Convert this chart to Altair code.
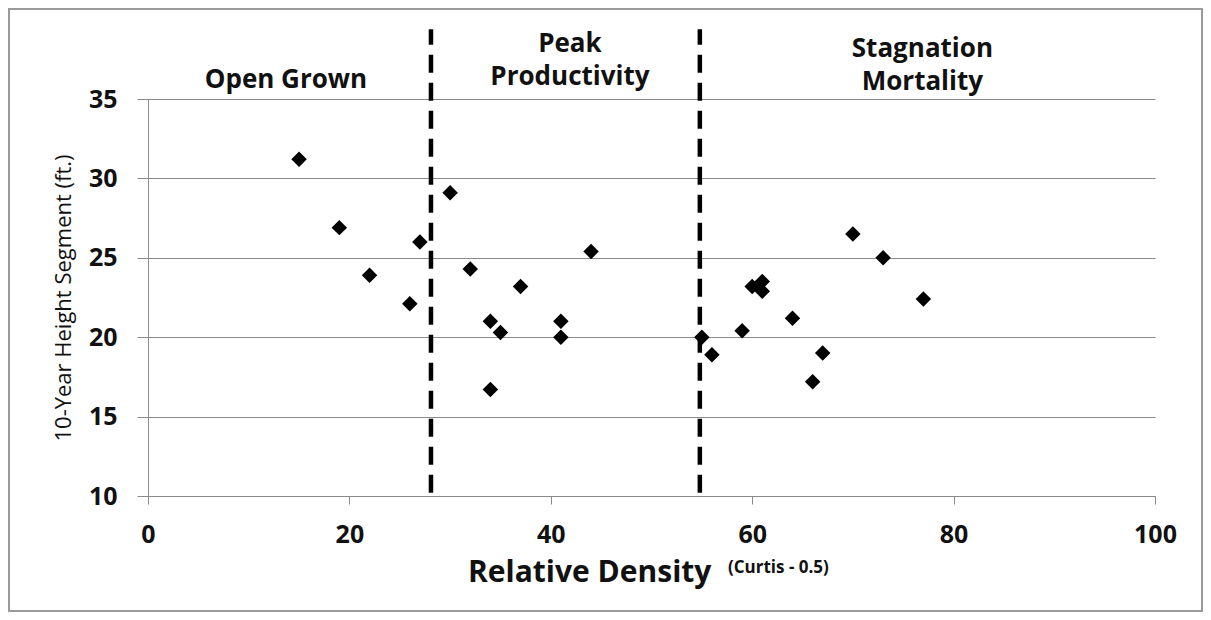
import altair as alt
import pandas as pd

# ---- data ----
density = [15, 19, 22, 26, 27, 30, 32, 34, 35, 34, 37, 41, 41, 44,
           55, 56, 59, 60, 61, 61, 64, 66, 67, 70, 73, 77]
height = [31.2, 26.9, 23.9, 22.1, 26.0, 29.1, 24.3, 21.0, 20.3, 16.7, 23.2, 21.0, 20.0, 25.4,
          20.0, 18.9, 20.4, 23.2, 23.5, 22.9, 21.2, 17.2, 19.0, 26.5, 25.0, 22.4]

boundaries = [28.1, 54.8]
boundary_bottom = [10.2, 10.2]
boundary_top = [39.4, 39.4]

zone_text = ["Open Grown", "Peak\nProductivity", "Stagnation\nMortality"]
zone_x = [13.7, 41.9, 76.9]
zone_y = [36.2, 38.45, 38.15]

x_ticks = [0, 20, 40, 60, 80, 100]
y_ticks = [10, 15, 20, 25, 30, 35]

x_title = "Relative Density"
x_title_sup = "(Curtis - 0.5)"
y_title = "10-Year Height Segment (ft.)"

FONT = "Open Sans"

pts_df = pd.DataFrame({"density": density, "height": height})
bnd_df = pd.DataFrame({"x": boundaries, "y": boundary_bottom, "y2": boundary_top})
zone_df = pd.DataFrame({"x": zone_x, "y": zone_y, "t": zone_text})
one = pd.DataFrame({"a": [0]})

xscale = alt.Scale(domain=[0, 100], nice=False, zero=False)
yscale = alt.Scale(domain=[10, 35], nice=False, zero=False)

xaxis = alt.Axis(values=x_ticks, grid=False, title=None, tickSize=8, labelPadding=18,
                 labelFontSize=25, labelFontWeight="bold", labelFont=FONT, labelColor="#111",
                 domainColor="#8a8a8a", tickColor="#8a8a8a", labelFlush=False)
yaxis = alt.Axis(values=y_ticks, grid=True, gridColor="#8a8a8a", title=y_title,
                 tickSize=11, labelPadding=20, labelFontSize=25, labelFontWeight="bold",
                 labelFont=FONT, labelColor="#111", domainColor="#8a8a8a", tickColor="#8a8a8a",
                 titleFont=FONT, titleFontSize=22, titleFontWeight="normal", titleColor="#111",
                 titlePadding=13)

points = alt.Chart(pts_df).mark_point(shape="diamond", filled=True, size=240,
                                      color="#000", opacity=1).encode(
    x=alt.X("density:Q", scale=xscale, axis=xaxis),
    y=alt.Y("height:Q", scale=yscale, axis=yaxis),
)

bounds = alt.Chart(bnd_df).mark_rule(color="#000", strokeWidth=4.5,
                                     strokeDash=[18, 10]).encode(
    x=alt.X("x:Q", scale=xscale),
    y=alt.Y("y:Q", scale=yscale),
    y2="y2:Q",
)

zones = alt.Chart(zone_df).mark_text(font=FONT, fontSize=26, fontWeight="bold",
                                     color="#111", align="center", baseline="middle",
                                     lineBreak="\n", lineHeight=33).encode(
    x=alt.X("x:Q", scale=xscale),
    y=alt.Y("y:Q", scale=yscale),
    text="t:N",
)

xt_main = alt.Chart(one).mark_text(text=x_title, font=FONT, fontSize=30, fontWeight="bold",
                                   color="#111", align="left", baseline="alphabetic").encode(
    x=alt.value(320), y=alt.value(483))
xt_sup = alt.Chart(one).mark_text(text=x_title_sup, font=FONT, fontSize=17, fontWeight="bold",
                                  color="#111", align="left", baseline="alphabetic").encode(
    x=alt.value(580), y=alt.value(474))

frame = alt.Chart(one).mark_rect(filled=False, stroke="#9a9a9a", strokeWidth=2).encode(
    x=alt.value(-139), x2=alt.value(1054), y=alt.value(-90), y2=alt.value(512))

chart = alt.layer(frame, bounds, points, zones, xt_main, xt_sup).properties(
    width=1007, height=397,
    autosize=alt.AutoSizeParams(type="none"),
    padding={"left": 140, "top": 91, "right": 48, "bottom": 116},
    background="white",
).configure_view(stroke=None)

chart.save("out.html", embed_options={"renderer": "svg", "actions": False})
